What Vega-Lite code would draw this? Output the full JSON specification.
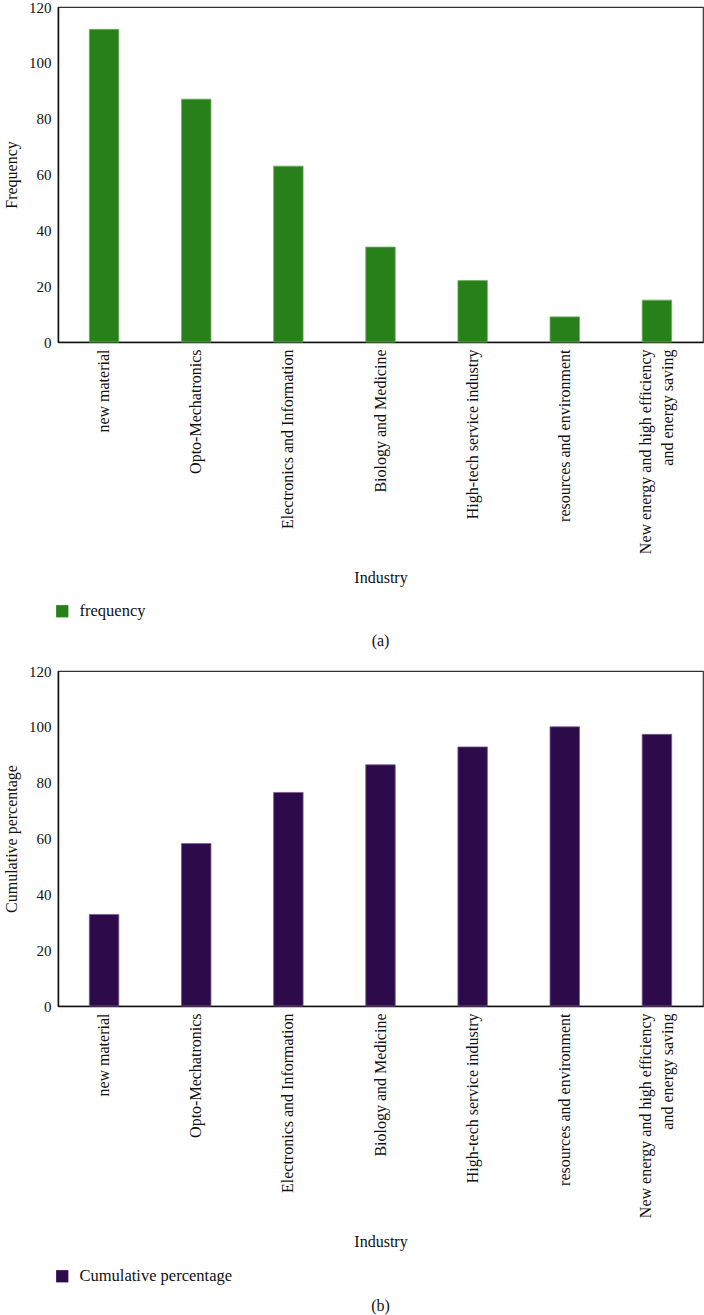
{
  "$schema": "https://vega.github.io/schema/vega-lite/v6.json",
  "padding": {"left": 2, "top": -1, "right": 0, "bottom": 1},
  "background": "white",
  "bounds": "flush",
  "spacing": 329,
  "config": {
    "font": "Liberation Serif",
    "view": {"stroke": "#333333", "strokeWidth": 1.2},
    "axis": {"labelFont": "Liberation Serif", "titleFont": "Liberation Serif", "labelColor": "#111", "titleColor": "#111", "titleFontWeight": "normal", "domainColor": "#111", "domainWidth": 1.5, "ticks": false, "grid": false},
    "legend": {"labelFont": "Liberation Serif", "labelColor": "#111"},
    "title": {"font": "Liberation Serif", "fontWeight": "normal", "color": "#111"}
  },
  "datasets": {
    "freq": [
      {"industry": "new material", "value": 112, "series": "frequency"},
      {"industry": "Opto-Mechatronics", "value": 87, "series": "frequency"},
      {"industry": "Electronics and Information", "value": 63, "series": "frequency"},
      {"industry": "Biology and Medicine", "value": 34, "series": "frequency"},
      {"industry": "High-tech service industry", "value": 22, "series": "frequency"},
      {"industry": "resources and environment", "value": 9, "series": "frequency"},
      {"industry": "New energy and high efficiency and energy saving", "value": 15, "series": "frequency"}
    ],
    "cum": [
      {"industry": "new material", "value": 32.8, "series": "Cumulative percentage"},
      {"industry": "Opto-Mechatronics", "value": 58.2, "series": "Cumulative percentage"},
      {"industry": "Electronics and Information", "value": 76.5, "series": "Cumulative percentage"},
      {"industry": "Biology and Medicine", "value": 86.4, "series": "Cumulative percentage"},
      {"industry": "High-tech service industry", "value": 92.8, "series": "Cumulative percentage"},
      {"industry": "resources and environment", "value": 100, "series": "Cumulative percentage"},
      {"industry": "New energy and high efficiency and energy saving", "value": 97.3, "series": "Cumulative percentage"}
    ]
  },
  "vconcat": [
    {
      "width": 645,
      "height": 335,
      "data": {"name": "freq"},
      "title": {"text": "(a)", "orient": "bottom", "anchor": "middle", "fontSize": 16, "offset": 13},
      "mark": {"type": "bar", "stroke": "#6fb35f", "strokeWidth": 0.8},
      "encoding": {
        "x": {
          "field": "industry", "type": "nominal", "sort": null,
          "scale": {"paddingInner": 0.68, "paddingOuter": 0.34},
          "axis": {"title": "Industry", "titleFontSize": 16, "titlePadding": 27, "labelAngle": -90, "labelAlign": "right", "labelBaseline": "middle", "labelFontSize": 16, "labelPadding": 7, "labelLimit": 400, "labelLineHeight": 22,
            "labelOffset": {"condition": {"test": "datum.value == 'New energy and high efficiency and energy saving'", "value": -11}, "value": 0},
            "labelExpr": "datum.label == 'New energy and high efficiency and energy saving' ? ['New energy and high efficiency', 'and energy saving'] : datum.label"}
        },
        "y": {
          "field": "value", "type": "quantitative",
          "scale": {"domain": [0, 120], "nice": false},
          "axis": {"title": "Frequency", "titleFontSize": 16, "titlePadding": 9, "labelFontSize": 15, "labelPadding": 7, "values": [0, 20, 40, 60, 80, 100, 120]}
        },
        "color": {
          "field": "series", "type": "nominal",
          "scale": {"range": ["#27801a"]},
          "legend": {"title": null, "orient": "none", "legendX": -4, "legendY": 596, "symbolType": "square", "symbolSize": 150, "symbolStrokeWidth": 0, "labelFontSize": 16.5, "labelOffset": 9}
        }
      }
    },
    {
      "width": 645,
      "height": 335,
      "data": {"name": "cum"},
      "title": {"text": "(b)", "orient": "bottom", "anchor": "middle", "fontSize": 16, "offset": 13},
      "mark": {"type": "bar", "stroke": "#7a5a96", "strokeWidth": 0.8},
      "encoding": {
        "x": {
          "field": "industry", "type": "nominal", "sort": null,
          "scale": {"paddingInner": 0.68, "paddingOuter": 0.34},
          "axis": {"title": "Industry", "titleFontSize": 16, "titlePadding": 27, "labelAngle": -90, "labelAlign": "right", "labelBaseline": "middle", "labelFontSize": 16, "labelPadding": 7, "labelLimit": 400, "labelLineHeight": 22,
            "labelOffset": {"condition": {"test": "datum.value == 'New energy and high efficiency and energy saving'", "value": -11}, "value": 0},
            "labelExpr": "datum.label == 'New energy and high efficiency and energy saving' ? ['New energy and high efficiency', 'and energy saving'] : datum.label"}
        },
        "y": {
          "field": "value", "type": "quantitative",
          "scale": {"domain": [0, 120], "nice": false},
          "axis": {"title": "Cumulative percentage", "titleFontSize": 16, "titlePadding": 9, "labelFontSize": 15, "labelPadding": 7, "values": [0, 20, 40, 60, 80, 100, 120]}
        },
        "color": {
          "field": "series", "type": "nominal",
          "scale": {"range": ["#2d0b4b"]},
          "legend": {"title": null, "orient": "none", "legendX": -4, "legendY": 597, "symbolType": "square", "symbolSize": 150, "symbolStrokeWidth": 0, "labelFontSize": 16.5, "labelOffset": 9}
        }
      }
    }
  ],
  "resolve": {"scale": {"color": "independent"}, "legend": {"color": "independent"}}
}
